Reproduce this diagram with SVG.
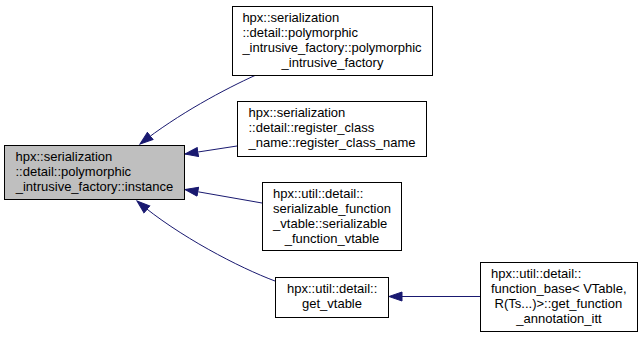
<svg xmlns="http://www.w3.org/2000/svg" width="644" height="337" viewBox="0 0 644 337">
  <style>
    .box { fill: #ffffff; stroke: #000000; stroke-width: 1; }
    .focus { fill: #bfbfbf; stroke: #000000; stroke-width: 1; }
    text { font-family: "Liberation Sans", Arial, sans-serif; font-size: 13px; fill: #000000; }
    .mid { text-anchor: middle; }
    .edge { fill: none; stroke: #191970; stroke-width: 1; }
  </style>
  <defs>
    <marker id="arrow" markerUnits="userSpaceOnUse" markerWidth="15" markerHeight="11" viewBox="0 0 15 11" refX="13.5" refY="5.5" orient="auto">
      <path d="M0.5,1 L13.5,5.5 L0.5,10 z" fill="#191970" stroke="#191970" stroke-width="1"/>
    </marker>
  </defs>

  <rect width="644" height="337" fill="#ffffff"/>

  <!-- connectors -->
  <g id="edges">
    <path class="edge" d="M256,75 C225,89 178,114 140,144" marker-end="url(#arrow)"/>
    <path class="edge" d="M237,146 L185,154" marker-end="url(#arrow)"/>
    <path class="edge" d="M262,203 L185,189.5" marker-end="url(#arrow)"/>
    <path class="edge" d="M275,281 C240,268 178,236 137,201" marker-end="url(#arrow)"/>
    <path class="edge" d="M480,296.5 L389,296.5" marker-end="url(#arrow)"/>
  </g>

  <!-- focus node -->
  <g id="instance">
    <rect class="focus" x="4.5" y="145.5" width="180" height="54"/>
    <text x="15.5" y="161">hpx::serialization</text>
    <text x="15.5" y="176">::detail::polymorphic</text>
    <text class="mid" x="94.5" y="191">_intrusive_factory::instance</text>
  </g>

  <g id="polymorphic_intrusive_factory">
    <rect class="box" x="232.5" y="6.5" width="200" height="69"/>
    <text x="242.4" y="22">hpx::serialization</text>
    <text x="242.4" y="37">::detail::polymorphic</text>
    <text x="242.4" y="52">_intrusive_factory::polymorphic</text>
    <text class="mid" x="332.5" y="67">_intrusive_factory</text>
  </g>

  <g id="register_class_name">
    <rect class="box" x="237.5" y="101.5" width="189" height="55"/>
    <text x="248.5" y="117">hpx::serialization</text>
    <text x="248.5" y="132">::detail::register_class</text>
    <text class="mid" x="332" y="147">_name::register_class_name</text>
  </g>

  <g id="serializable_function_vtable">
    <rect class="box" x="262.5" y="182.5" width="139" height="68"/>
    <text x="273.1" y="198">hpx::util::detail::</text>
    <text x="273.1" y="213">serializable_function</text>
    <text x="273.1" y="228">_vtable::serializable</text>
    <text class="mid" x="332" y="243">_function_vtable</text>
  </g>

  <g id="get_vtable">
    <rect class="box" x="275.5" y="277.5" width="113" height="40"/>
    <text x="287" y="293">hpx::util::detail::</text>
    <text class="mid" x="332" y="308">get_vtable</text>
  </g>

  <g id="get_function_annotation_itt">
    <rect class="box" x="480.5" y="262.5" width="157" height="69"/>
    <text x="491" y="278">hpx::util::detail::</text>
    <text x="491" y="293">function_base&lt; VTable,</text>
    <text x="494.6" y="308">R(Ts...)&gt;::get_function</text>
    <text class="mid" x="559" y="323">_annotation_itt</text>
  </g>
</svg>
